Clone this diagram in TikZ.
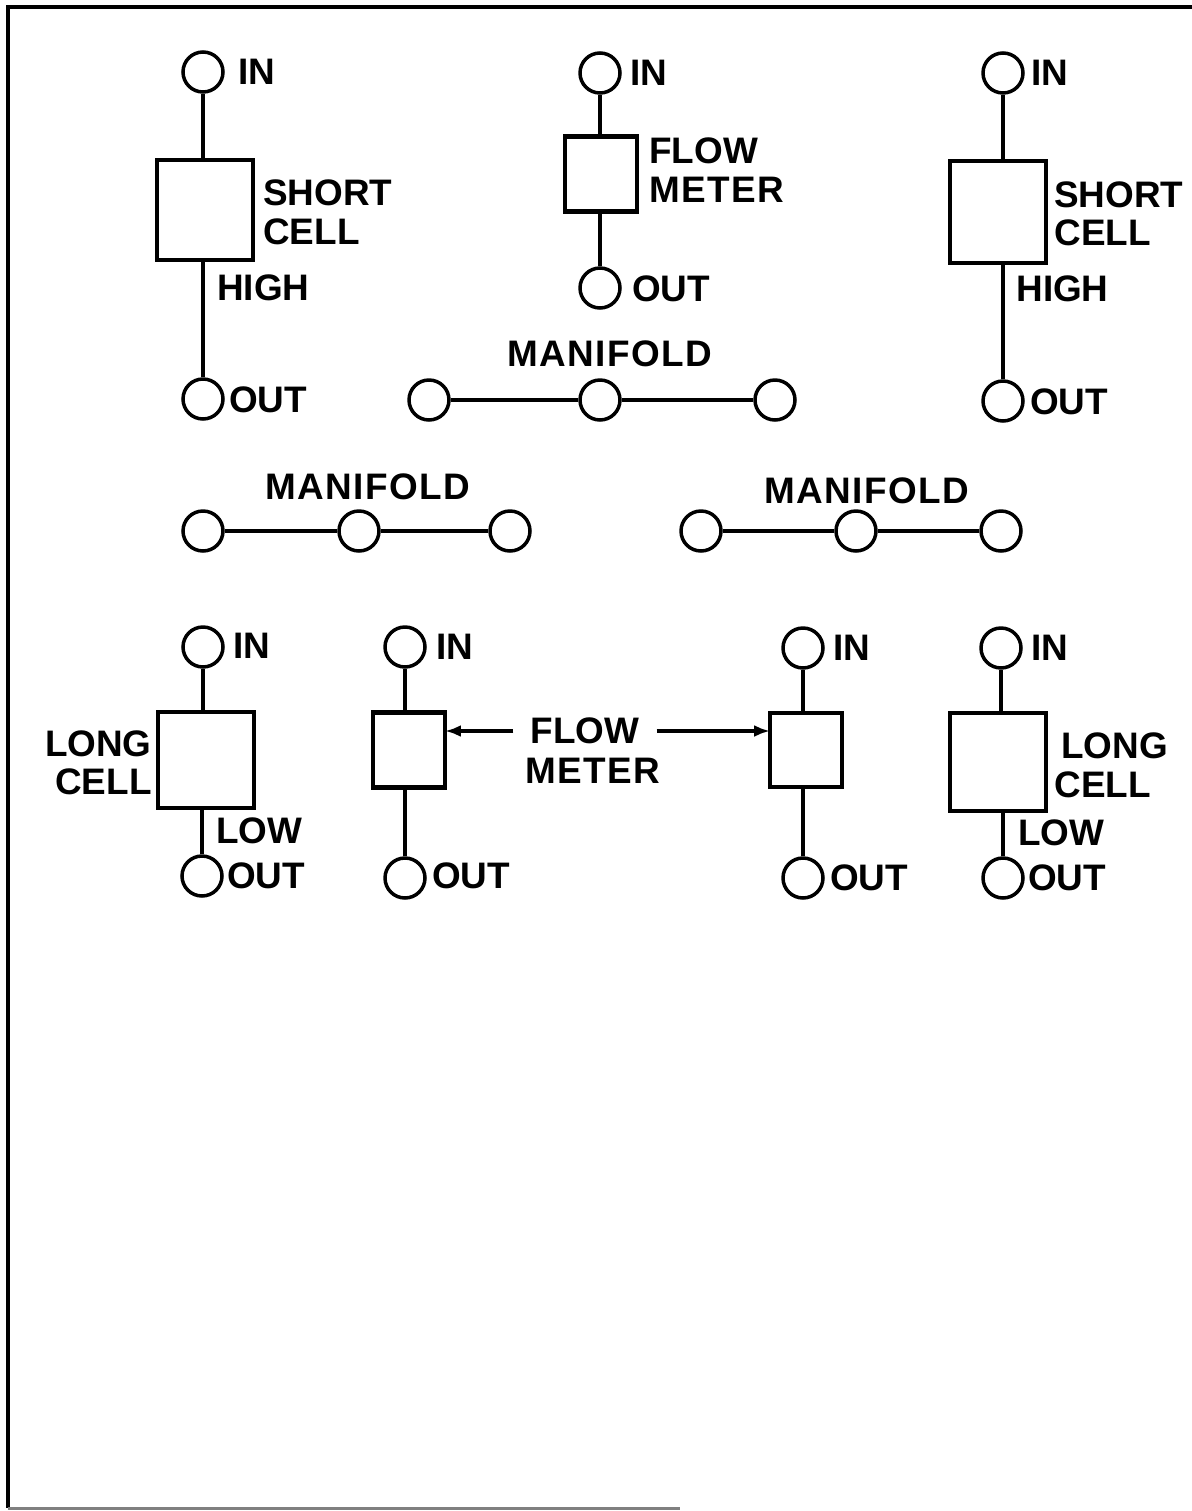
\documentclass[tikz,border=0pt]{standalone}
\usepackage{fontspec}
\setmainfont{Liberation Sans}
\newfontfamily\widefont[LetterSpace=4]{Liberation Sans}
\usetikzlibrary{arrows.meta}
\tikzset{
  port/.style={draw,circle,line width=.7mm,minimum size=.8cm,inner sep=0pt},
  cell/.style={draw,line width=.85mm,inner sep=0pt,outer sep=0pt},
  lbl/.style={inner sep=0pt,font=\fontsize{21}{25}\selectfont\bfseries},
  widelbl/.style={inner sep=0pt,font=\fontsize{21}{25}\selectfont\widefont\bfseries},
  pipe/.style={line width=.7mm},
  lead/.style={line width=.65mm,-{Latex[length=3.2mm,width=2.4mm]}}
}
\begin{document}
\begin{tikzpicture}[x=.02cm,y=-.02cm]
\useasboundingbox (0,0) rectangle (1192,1511);
\coordinate (fa) at (1192,7);
\coordinate (fb) at (8,7);
\coordinate (fc) at (8,1508);
\coordinate (fd) at (680,1508);
\draw[line width=1mm] (fa)--(fb)--(fc);
\draw[line width=.6mm,gray] (fc)--(fd);
% short cell, left
\node[port] (inA) at (203,72){};
\node[lbl] (tinA) at (257,72){IN};
\node[cell,minimum width=1.92cm,minimum height=2cm] (boxA) at (205,210){};
\node[port] (outA) at (203,399){};
\node[lbl] (toutA) at (268,400){OUT};
\node[lbl,anchor=west] (shortA) at (263,193){SHORT};
\node[lbl,anchor=west] (cellA) at (263,232){CELL};
\node[lbl,anchor=west] (highA) at (217,288){HIGH};
\draw[pipe] (inA)--(inA |- boxA.north);
\draw[pipe] (outA)--(outA |- boxA.south);
% flow meter, top
\node[port] (inB) at (600,73){};
\node[lbl] (tinB) at (649,73){IN};
\node[cell,minimum width=1.44cm,minimum height=1.5cm] (boxB) at (601,174){};
\node[port] (outB) at (600,288){};
\node[lbl] (toutB) at (671,289){OUT};
\node[lbl,anchor=west] (flowB) at (649,151){FLOW};
\node[widelbl,anchor=west] (meterB) at (649,190){METER};
\draw[pipe] (inB)--(inB |- boxB.north);
\draw[pipe] (outB)--(outB |- boxB.south);
% short cell, right
\node[port] (inC) at (1003,73){};
\node[lbl] (tinC) at (1050,73){IN};
\node[cell,minimum width=1.92cm,minimum height=2.04cm] (boxC) at (998,212){};
\node[port] (outC) at (1003,401){};
\node[lbl] (toutC) at (1069,402){OUT};
\node[lbl,anchor=west] (shortC) at (1054,195){SHORT};
\node[lbl,anchor=west] (cellC) at (1054,233){CELL};
\node[lbl,anchor=west] (highC) at (1016,289){HIGH};
\draw[pipe] (inC)--(inC |- boxC.north);
\draw[pipe] (outC)--(outC |- boxC.south);
% manifolds
\node[port] (mAa) at (429,400){};
\node[port] (mAb) at (600,400){};
\node[port] (mAc) at (775,400){};
\node[widelbl] (tmA) at (610,354){MANIFOLD};
\draw[pipe] (mAa)--(mAb)--(mAc);
\node[port] (mBa) at (203,531){};
\node[port] (mBb) at (359,531){};
\node[port] (mBc) at (510,531){};
\node[widelbl] (tmB) at (368,487){MANIFOLD};
\draw[pipe] (mBa)--(mBb)--(mBc);
\node[port] (mCa) at (701,531){};
\node[port] (mCb) at (856,531){};
\node[port] (mCc) at (1001,531){};
\node[widelbl] (tmC) at (867,491){MANIFOLD};
\draw[pipe] (mCa)--(mCb)--(mCc);
% long cell, left
\node[port] (inD) at (203,647){};
\node[lbl] (tinD) at (252,646){IN};
\node[cell,minimum width=1.92cm,minimum height=1.92cm] (boxD) at (206,760){};
\node[port] (outD) at (202,876){};
\node[lbl] (toutD) at (266,876){OUT};
\node[lbl,anchor=east] (longD) at (152,744){LONG};
\node[lbl,anchor=east] (cellD) at (152,782){CELL};
\node[lbl,anchor=west] (lowD) at (216,831){LOW};
\draw[pipe] (inD)--(inD |- boxD.north);
\draw[pipe] (outD)--(outD |- boxD.south);
% flow meters, bottom
\node[port] (inE) at (405,647){};
\node[lbl] (tinE) at (455,647){IN};
\node[cell,minimum width=1.44cm,minimum height=1.5cm] (boxE) at (409,750){};
\node[port] (outE) at (405,878){};
\node[lbl] (toutE) at (471,876){OUT};
\draw[pipe] (inE)--(inE |- boxE.north);
\draw[pipe] (outE)--(outE |- boxE.south);
\node[port] (inF) at (803,648){};
\node[lbl] (tinF) at (852,648){IN};
\node[cell,minimum width=1.44cm,minimum height=1.48cm] (boxF) at (806,750){};
\node[port] (outF) at (803,878){};
\node[lbl] (toutF) at (869,878){OUT};
\draw[pipe] (inF)--(inF |- boxF.north);
\draw[pipe] (outF)--(outF |- boxF.south);
\node[lbl,inner xsep=.34cm] (flowG) at (585,731){FLOW};
\node[widelbl] (meterG) at (593,771){METER};
\draw[lead] (flowG)--(flowG -| boxE.east);
\draw[lead] (flowG)--(flowG -| boxF.west);
% long cell, right
\node[port] (inH) at (1001,648){};
\node[lbl] (tinH) at (1050,648){IN};
\node[cell,minimum width=1.92cm,minimum height=1.96cm] (boxH) at (998,762){};
\node[port] (outH) at (1003,878){};
\node[lbl] (toutH) at (1067,878){OUT};
\node[lbl,anchor=west] (longH) at (1061,746){LONG};
\node[lbl,anchor=west] (cellH) at (1054,785){CELL};
\node[lbl,anchor=west] (lowH) at (1018,833){LOW};
\draw[pipe] (inH)--(inH |- boxH.north);
\draw[pipe] (outH)--(outH |- boxH.south);
\end{tikzpicture}
\end{document}
